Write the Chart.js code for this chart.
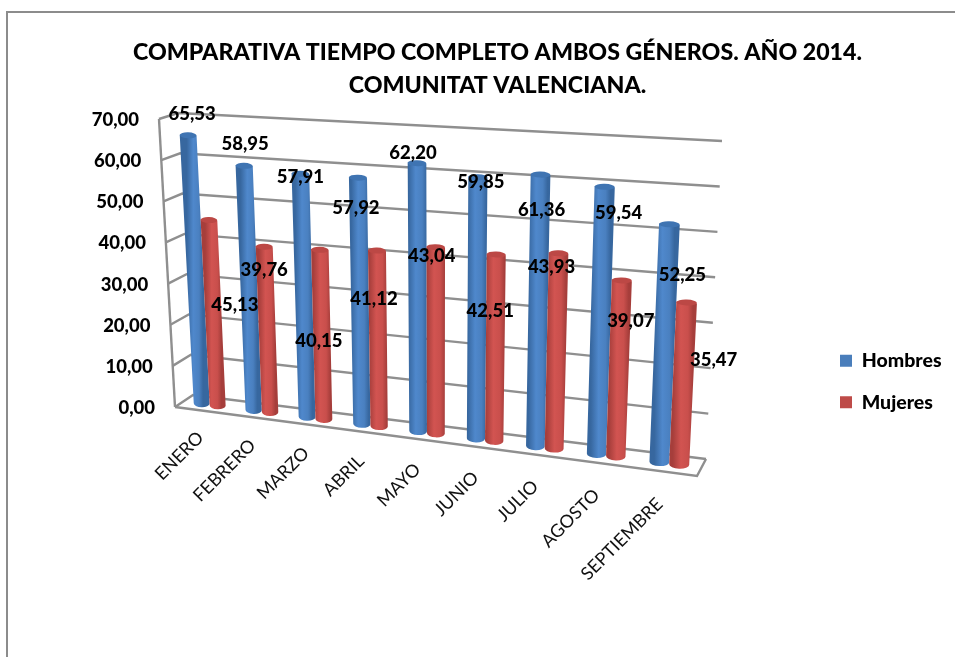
<!DOCTYPE html>
<html lang="es">
<head>
<meta charset="utf-8">
<title>Comparativa tiempo completo</title>
<script src="https://cdn.jsdelivr.net/npm/chart.js@4/dist/chart.umd.min.js"></script>
<style>
  html, body { margin: 0; background: #fff; overflow: hidden; }
  #frame { position: absolute; left: 6px; top: 11px; width: 1100px; height: 800px; border: 2px solid #8c8c8c; }
  #c { position: absolute; left: 0; top: 0; }
</style>
</head>
<body>
<div id="frame"></div>
<canvas id="c" width="955" height="657"></canvas>
<script>
const categories = ["ENERO", "FEBRERO", "MARZO", "ABRIL", "MAYO", "JUNIO", "JULIO", "AGOSTO", "SEPTIEMBRE"];
const hombres = [65.53, 58.95, 57.91, 57.92, 62.20, 59.85, 61.36, 59.54, 52.25];
const mujeres = [45.13, 39.76, 40.15, 41.12, 43.04, 42.51, 43.93, 39.07, 35.47];
const titleLines = ["COMPARATIVA TIEMPO COMPLETO AMBOS GÉNEROS. AÑO 2014.", "COMUNITAT VALENCIANA."];

// excel moved the value labels by hand, so they sit away from the bar tops
const nudgeHombres = [[4, -21], [1, -22], [0, 3], [-2, 30], [-4, -10], [3, 5], [1, 35], [14, 26], [13, 51]];
const nudgeMujeres = [[26, 85], [0, 23], [-1, 91], [-3, 48], [-4, 9], [-6, 57], [-7, 14], [9, 41], [27, 58]];

// corners of the 3d box: back wall and front plane
const box = {
  back: { bl: [193, 395], br: [706, 459], tl: [178, 113], tr: [722, 141] },
  front: { bl: [175, 407], br: [697, 476], tl: [159, 119], tr: [713, 151] },
};
const PERSPECTIVE = 1.13;
const GRID = "#8f8f8f";
const FONT = "Lato, sans-serif";
const HEAVY = "900";

const comma = (v) => v.toFixed(2).replace(".", ",");
const mix = (a, b, t) => a + (b - a) * t;

// u along the categories, v up the values, d from back wall (0) to front (1)
function project(u, v, d) {
  const t = u / (PERSPECTIVE - (PERSPECTIVE - 1) * u);
  const plane = (p, i) => mix(mix(p.bl[i], p.br[i], t), mix(p.tl[i], p.tr[i], t), v);
  return [mix(plane(box.back, 0), plane(box.front, 0), d), mix(plane(box.back, 1), plane(box.front, 1), d)];
}

function line(ctx, pts) {
  ctx.beginPath();
  pts.forEach((p, i) => (i ? ctx.lineTo(p[0], p[1]) : ctx.moveTo(p[0], p[1])));
  ctx.stroke();
}

function drawWalls(chart) {
  const { ctx } = chart;
  const y = chart.scales.y;
  ctx.save();
  ctx.strokeStyle = GRID;
  ctx.lineWidth = 2.4;
  y.ticks.forEach((tick) => {
    const v = tick.value / y.max;
    line(ctx, [project(0, v, 1), project(0, v, 0), project(1, v, 0)]);
  });
  line(ctx, [project(0, 0, 1), project(0, 1, 1)]);
  line(ctx, [project(0, 0, 1), project(1, 0, 1), project(1, 0, 0)]);

  ctx.fillStyle = "#000";
  ctx.font = HEAVY + " 18.5px " + FONT;
  ctx.textAlign = "right";
  ctx.textBaseline = "middle";
  y.ticks.forEach((tick) => {
    const p = project(0, tick.value / y.max, 1);
    ctx.fillText(tick.label, p[0] - 20, p[1] + 1);
  });
  ctx.restore();
}

function drawCylinder(chart, el, colors) {
  const { ctx, chartArea: a } = chart;
  const u = (el.x - a.left) / a.width;
  const half = el.width / 2 / a.width;
  const v = (a.bottom - el.y) / a.height;
  const v0 = (a.bottom - el.base) / a.height;
  const d = 0.5;
  const bl = project(u - half, v0, d);
  const br = project(u + half, v0, d);
  const tl = project(u - half, v, d);
  const tr = project(u + half, v, d);
  const tilt = Math.atan2(br[1] - bl[1], br[0] - bl[0]) * 0.3;
  const rxBottom = (br[0] - bl[0]) / 2;
  const rxTop = (tr[0] - tl[0]) / 2;

  const grad = ctx.createLinearGradient(mix(bl[0], tl[0], 0.5), 0, mix(br[0], tr[0], 0.5), 0);
  grad.addColorStop(0, colors.edge);
  grad.addColorStop(0.4, colors.light);
  grad.addColorStop(0.75, colors.mid);
  grad.addColorStop(1, colors.edge);

  ctx.beginPath();
  ctx.moveTo(tl[0], tl[1]);
  ctx.lineTo(bl[0], bl[1]);
  ctx.ellipse((bl[0] + br[0]) / 2, (bl[1] + br[1]) / 2, rxBottom, 4, tilt, Math.PI, 0, true);
  ctx.lineTo(tr[0], tr[1]);
  ctx.closePath();
  ctx.fillStyle = grad;
  ctx.fill();

  ctx.beginPath();
  ctx.ellipse((tl[0] + tr[0]) / 2, (tl[1] + tr[1]) / 2, rxTop, 3, tilt, 0, Math.PI * 2);
  ctx.fillStyle = colors.cap;
  ctx.fill();
}

function drawLabels(chart) {
  const { ctx, chartArea: a } = chart;
  const x = chart.scales.x;
  ctx.save();
  ctx.fillStyle = "#000";
  ctx.font = HEAVY + " 18.5px " + FONT;
  ctx.textAlign = "center";
  ctx.textBaseline = "middle";
  [[hombres, nudgeHombres, 0], [mujeres, nudgeMujeres, 1]].forEach(([vals, nudge, ds]) => {
    chart.getDatasetMeta(ds).data.forEach((el, i) => {
      const top = project((el.x - a.left) / a.width, (a.bottom - el.y) / a.height, 0.5);
      ctx.fillText(comma(vals[i]), top[0] + nudge[i][0], top[1] + nudge[i][1]);
    });
  });

  ctx.font = "18px " + FONT;
  ctx.fillStyle = "#111";
  ctx.textAlign = "right";
  x.getLabels().forEach((label, i) => {
    const u = (x.getPixelForValue(i) - a.left) / a.width;
    const p = project(u, 0, 1);
    ctx.save();
    ctx.translate(p[0] + mix(0, -5, u), p[1] + mix(24, 30, u));
    ctx.rotate(-Math.PI / 4);
    ctx.fillText(label, 0, 0);
    ctx.restore();
  });
  ctx.restore();
}

const blue = { edge: "#37679f", light: "#4f88cc", mid: "#4a80c0", cap: "#3f74b2" };
const red = { edge: "#a63e3b", light: "#d25451", mid: "#c94f4c", cap: "#bc4845" };

const box3d = {
  id: "box3d",
  afterLayout(chart) {
    // legend sits low on the right, not centred
    const lg = chart.legend;
    const pad = lg.options.labels.padding;
    lg.left = 840 - pad;
    lg.right = lg.left + lg.width;
    lg.top = 351 - pad;
    lg.bottom = lg.top + lg.height;
  },
  beforeDatasetsDraw(chart) {
    drawWalls(chart);
    const h = chart.getDatasetMeta(0).data;
    const m = chart.getDatasetMeta(1).data;
    categories.forEach((_, i) => {
      drawCylinder(chart, h[i], blue);
      drawCylinder(chart, m[i], red);
    });
    drawLabels(chart);
    return false;
  },
};

new Chart(document.getElementById("c"), {
  type: "bar",
  data: {
    labels: categories,
    datasets: [
      { label: "Hombres", data: hombres, backgroundColor: "#4a7ebb" },
      { label: "Mujeres", data: mujeres, backgroundColor: "#be4b48" },
    ],
  },
  options: {
    responsive: false,
    animation: false,
    events: [],
    layout: { padding: { left: 40, top: 0, right: 0, bottom: 0 } },
    datasets: { bar: { categoryPercentage: 0.62, barPercentage: 1 } },
    plugins: {
      title: {
        display: true,
        text: titleLines,
        color: "#000",
        font: { family: FONT, size: 23.2, weight: HEAVY, lineHeight: 1.43 },
        padding: { top: 36, bottom: 10 },
      },
      legend: {
        position: "right",
        align: "start",
        labels: { boxWidth: 12, boxHeight: 12, padding: 22, color: "#000", font: { family: FONT, size: 19.5, weight: HEAVY } },
      },
      tooltip: { enabled: false },
    },
    scales: {
      x: { grid: { display: false }, border: { display: false }, ticks: { display: false, autoSkip: false } },
      y: {
        min: 0,
        max: 70,
        grid: { display: false },
        border: { display: false },
        ticks: { display: false, stepSize: 10, callback: (v) => comma(v) },
      },
    },
  },
  plugins: [box3d],
});
</script>
</body>
</html>
